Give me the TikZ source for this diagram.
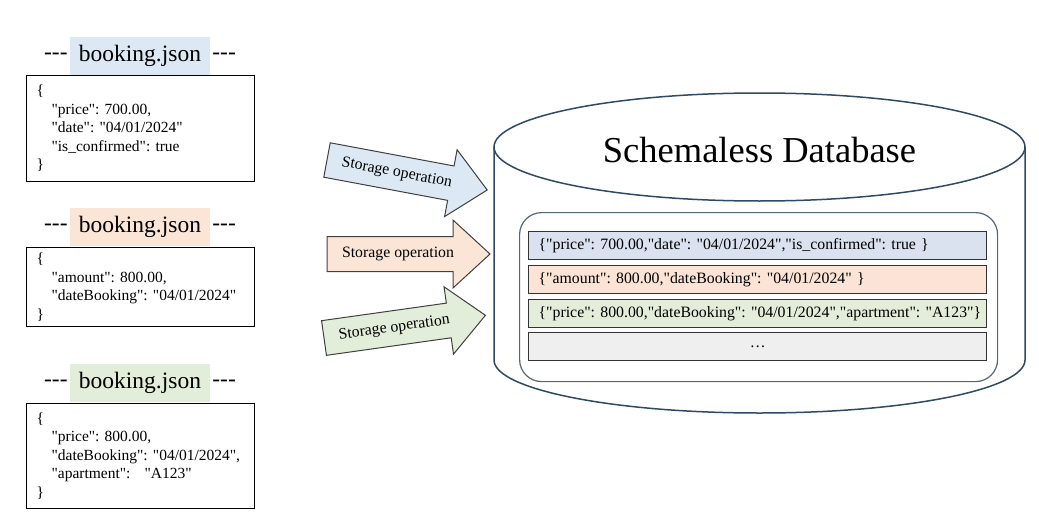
\documentclass[tikz,border=0pt]{standalone}
\usepackage{fontspec}
\setmainfont{Liberation Serif}[Ligatures=TeXOff]
\definecolor{hlblue}{HTML}{DCE9F4}
\definecolor{hlorange}{HTML}{FBE5D6}
\definecolor{hlgreen}{HTML}{E2EDDA}
\definecolor{rowblue}{HTML}{DAE1EF}
\definecolor{roworange}{HTML}{FBE3D5}
\definecolor{rowgreen}{HTML}{E3EDDA}
\definecolor{rowgray}{HTML}{EFEFEF}
\definecolor{cylline}{HTML}{2E4A66}
\definecolor{innerline}{HTML}{56667A}
\definecolor{arrline}{HTML}{404040}
\newcommand\tridash{-\kern0pt-\kern0pt-}
\frenchspacing
\begin{document}
\begin{tikzpicture}[x=1pt,y=-1pt,
  jsonbox/.style={draw=black, line width=1.2pt, minimum width=228pt, text width=208pt,
    align=left, inner xsep=10pt, inner ysep=0pt, anchor=north west,
    font=\fontsize{15.5}{18.5}\selectfont},
  titlehl/.style={minimum width=140pt, minimum height=38pt, inner sep=0pt,
    font=\fontsize{23.5}{28}\selectfont},
  titledash/.style={inner xsep=2pt, inner ysep=0pt, font=\fontsize{23.5}{28}\selectfont},
  bigarrow/.style={draw=arrline, line width=1pt, line join=miter},
  optext/.style={inner sep=0pt, font=\fontsize{15.8}{18}\selectfont},
  cyl/.style={draw=cylline, line width=1.5pt},
  rowbox/.style={draw=black!80, line width=1.3pt, minimum width=458pt, minimum height=28pt,
    text width=438pt, inner xsep=10pt, inner ysep=0pt, anchor=north west,
    font=\fontsize{15.8}{18}\selectfont}
]
\useasboundingbox (0,0) rectangle (1039,519);

% ---- left JSON files ----
\node[titlehl, fill=hlblue] (t1) at (140,56) {booking.json};
\node[titledash, anchor=east] (t1l) at (t1.west) {\tridash};
\node[titledash, anchor=west] (t1r) at (t1.east) {\tridash};
\node[jsonbox, minimum height=106pt] (b1) at (26,75) {\{\\
\hspace*{15pt}"price": 700.00,\\
\hspace*{15pt}"date": "04/01/2024"\\
\hspace*{15pt}"is\_confirmed": true\\
\}};

\node[titlehl, fill=hlorange] (t2) at (140,227) {booking.json};
\node[titledash, anchor=east] (t2l) at (t2.west) {\tridash};
\node[titledash, anchor=west] (t2r) at (t2.east) {\tridash};
\node[jsonbox, minimum height=79pt] (b2) at (26,247) {\{\\
\hspace*{15pt}"amount": 800.00,\\
\hspace*{15pt}"dateBooking": "04/01/2024"\\
\}};

\node[titlehl, fill=hlgreen] (t3) at (140,383) {booking.json};
\node[titledash, anchor=east] (t3l) at (t3.west) {\tridash};
\node[titledash, anchor=west] (t3r) at (t3.east) {\tridash};
\node[jsonbox, minimum height=105pt] (b3) at (26,403) {\{\\
\hspace*{15pt}\mbox{"price": 800.00,}\\
\hspace*{15pt}\mbox{"dateBooking": "04/01/2024",}\\
\hspace*{15pt}\mbox{"apartment":\hspace{14pt}"A123"}\\
\}};

% ---- storage arrows ----
\begin{scope}[shift={(327,160)}, rotate=-10.6]
\draw[bigarrow, fill=hlblue] (0,-17.5) -- (126,-17.5) -- (126,-34) -- (163,0) -- (126,34) -- (126,17.5) -- (0,17.5) -- cycle;
\node[optext, rotate=-10.6] (op1) at (71,0) {Storage operation};
\end{scope}
\begin{scope}[shift={(327,254)}]
\draw[bigarrow, fill=hlorange] (0,-17.5) -- (126,-17.5) -- (126,-34) -- (163,0) -- (126,34) -- (126,17.5) -- (0,17.5) -- cycle;
\node[optext] (op2) at (71,0) {Storage operation};
\end{scope}
\begin{scope}[shift={(324,338)}, rotate=8]
\draw[bigarrow, fill=hlgreen] (0,-17.5) -- (126,-17.5) -- (126,-34) -- (163,0) -- (126,34) -- (126,17.5) -- (0,17.5) -- cycle;
\node[optext, rotate=8] (op3) at (71,0) {Storage operation};
\end{scope}

% ---- database cylinder ----
\draw[cyl] (494,147) -- (494,360) arc[start angle=180, end angle=0, x radius=265.5, y radius=53] -- (1025,147);
\draw[cyl, fill=white] (759.5,147) ellipse [x radius=265.5, y radius=54];
\node[font=\fontsize{36.5}{40}\selectfont] (dbt) at (759.5,150) {Schemaless Database};

\node[draw=innerline, line width=1.2pt, rounded corners=22pt, minimum width=478pt,
  minimum height=169pt, anchor=north west] (store) at (519,212) {};

\node[rowbox, fill=rowblue] (r1) at (528,231) {\mbox{\{"price": 700.00,"date": "04/01/2024","is\_confirmed": true \}}};
\node[rowbox, fill=roworange] (r2) at (528,265) {\mbox{\{"amount": 800.00,"dateBooking": "04/01/2024" \}}};
\node[rowbox, fill=rowgreen] (r3) at (528,299) {\mbox{\{"price": 800.00,"dateBooking": "04/01/2024","apartment": "A123"\}}};
\node[rowbox, fill=rowgray, align=center] (r4) at (528,332) {\ldots};
\end{tikzpicture}
\end{document}
